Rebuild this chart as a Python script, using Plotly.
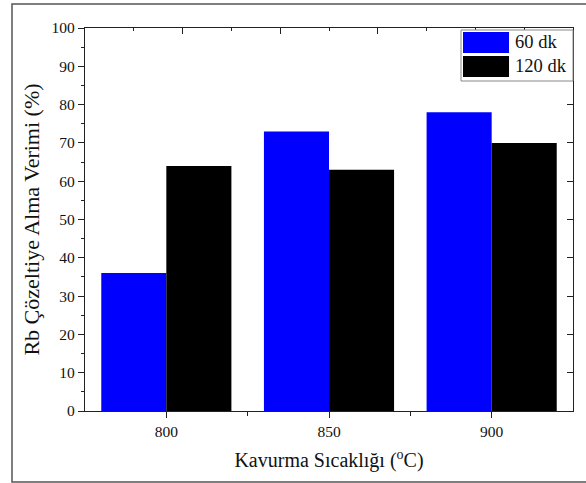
import plotly.graph_objects as go

temps = [800, 850, 900]
series_60 = [36, 73, 78]
series_120 = [64, 63, 70]
names = ["60 dk", "120 dk"]
colors = ["#0000FF", "#000000"]

FONT = "Liberation Serif, Times New Roman, serif"
AX = "#222222"

fig = go.Figure()
fig.add_trace(go.Bar(x=temps, y=series_60, name=names[0], marker=dict(color=colors[0], line=dict(width=0)), showlegend=False))
fig.add_trace(go.Bar(x=temps, y=series_120, name=names[1], marker=dict(color=colors[1], line=dict(width=0)), showlegend=False))
# invisible helper trace so the mirrored (top/right) axes are drawn
fig.add_trace(go.Scatter(x=[temps[1]], y=[0], xaxis="x2", yaxis="y2", mode="markers",
                         marker=dict(opacity=0), hoverinfo="skip", showlegend=False))

fig.update_layout(
    width=586, height=483,
    margin=dict(l=85, r=13, t=28, b=72),
    paper_bgcolor="white", plot_bgcolor="white",
    barmode="group", bargap=0.2, bargroupgap=0,
    font=dict(family=FONT, size=15, color="#111111"),
    showlegend=False,
    xaxis=dict(
        range=[775, 925], tickmode="array", tickvals=temps, ticktext=[str(t) for t in temps],
        ticks="outside", ticklen=6, tickwidth=1.3, tickcolor=AX,
        minor=dict(tickvals=[825, 875], ticks="outside", ticklen=4, tickwidth=1.3, tickcolor=AX),
        showline=True, linecolor=AX, linewidth=1.3, showgrid=False, zeroline=False,
        tickfont=dict(size=15.5),
        title=dict(text="Kavurma Sıcaklığı (<sup>o</sup>C)", font=dict(size=20), standoff=14),
    ),
    yaxis=dict(
        range=[0, 100], tickmode="linear", tick0=0, dtick=10,
        ticks="outside", ticklen=6, tickwidth=1.3, tickcolor=AX,
        minor=dict(tick0=0, dtick=5, ticks="outside", ticklen=3, tickwidth=1.3, tickcolor=AX),
        showline=True, linecolor=AX, linewidth=1.3, showgrid=False, zeroline=False,
        tickfont=dict(size=15.5),
        title=dict(text="Rb Çözeltiye Alma Verimi (%)", font=dict(size=22), standoff=5),
    ),
    xaxis2=dict(
        overlaying="x", side="top", range=[775, 925], tickmode="linear", tick0=805, dtick=30,
        ticks="inside", ticklen=6, tickwidth=1.3, tickcolor=AX,
        minor=dict(tick0=790, dtick=30, ticks="inside", ticklen=3, tickwidth=1.3, tickcolor=AX),
        showticklabels=False, showline=True, linecolor=AX, linewidth=1.3,
        showgrid=False, zeroline=False,
    ),
    yaxis2=dict(
        overlaying="y", side="right", range=[0, 100], tickmode="linear", tick0=0, dtick=10,
        ticks="inside", ticklen=6, tickwidth=1.3, tickcolor=AX,
        showticklabels=False, showline=True, linecolor=AX, linewidth=1.3,
        showgrid=False, zeroline=False,
    ),
)

# outer frame
fig.add_shape(type="rect", xref="paper", yref="paper",
              x0=-0.1496, x1=1.04, y0=-0.1854, y1=1.0627,
              line=dict(color="#555555", width=1.5), fillcolor="rgba(0,0,0,0)", layer="below")

# legend drawn manually (large swatches as in the reference)
fig.add_shape(type="rect", xref="paper", yref="paper", x0=0.7705, x1=1.0, y0=0.8616, y1=0.9948,
              line=dict(color="#888888", width=1), fillcolor="white", layer="above")
sw = [(0.9896, 0.9347), (0.9269, 0.8721)]
for (top, bot), nm, col in zip(sw, names, colors):
    fig.add_shape(type="rect", xref="paper", yref="paper", x0=0.7746, x1=0.8689, y0=bot, y1=top,
                  line=dict(width=0), fillcolor=col, layer="above")
    fig.add_annotation(xref="paper", yref="paper", x=0.878, y=(top + bot) / 2, text=nm,
                       showarrow=False, xanchor="left", yanchor="middle",
                       font=dict(family=FONT, size=18.5, color="#111111"))

fig.write_html("out.html")
